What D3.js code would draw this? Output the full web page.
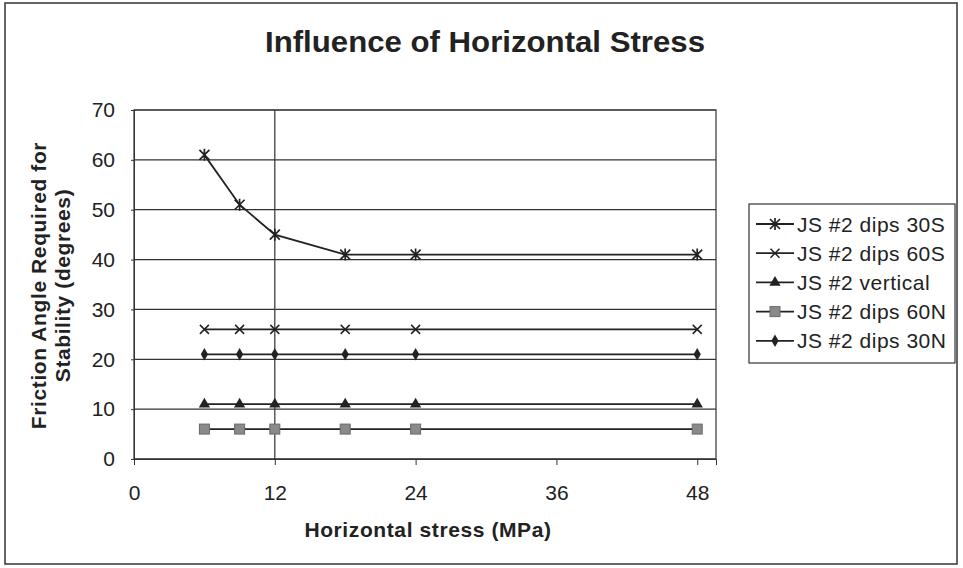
<!DOCTYPE html>
<meta charset="utf-8" />
<script src="https://d3js.org/d3.v7.min.js"></script>
<style>
    body { margin: 0; background: #fff; }
    text { font-family: 'Liberation Sans', Arial, sans-serif; fill: #222; }
</style>
<div id="chart"></div>
<script>
    // data
    const stress = [6, 9, 12, 18, 24, 48]
    const dips30S = [61, 51, 45, 41, 41, 41]
    const dips60S = [26, 26, 26, 26, 26, 26]
    const vertical = [11, 11, 11, 11, 11, 11]
    const dips60N = [6, 6, 6, 6, 6, 6]
    const dips30N = [21, 21, 21, 21, 21, 21]
    const xTicks = [0, 12, 24, 36, 48]
    const yTicks = [0, 10, 20, 30, 40, 50, 60, 70]

    const series = [
        { name: 'JS #2 dips 30S', values: dips30S, marker: 'star' },
        { name: 'JS #2 dips 60S', values: dips60S, marker: 'cross' },
        { name: 'JS #2 vertical', values: vertical, marker: 'triangle' },
        { name: 'JS #2 dips 60N', values: dips60N, marker: 'square' },
        { name: 'JS #2 dips 30N', values: dips30N, marker: 'diamond' }
    ]

    const W = 963, H = 568
    const margin = { top: 110, right: 247, bottom: 109, left: 134 }
    const width = W - margin.left - margin.right
    const height = H - margin.top - margin.bottom

    const root = d3.select('#chart').append('svg')
        .attr('width', W).attr('height', H)

    // outer frame
    root.append('rect')
        .attr('x', 5).attr('y', 3).attr('width', 952).attr('height', 561)
        .attr('fill', 'none').attr('stroke', '#333').attr('stroke-width', 1.5)

    root.append('text')
        .attr('x', 485).attr('y', 52)
        .attr('text-anchor', 'middle')
        .attr('font-family', "'Liberation Sans Narrow', 'Liberation Sans', sans-serif")
        .attr('font-size', '30px').attr('font-weight', 'bold')
        .attr('textLength', 440).attr('lengthAdjust', 'spacingAndGlyphs')
        .text('Influence of Horizontal Stress')

    const svg = root.append('g')
        .attr('transform', `translate(${margin.left},${margin.top})`)

    const x = d3.scaleLinear().domain([0, 49.6]).range([0, width])
    const y = d3.scaleLinear().domain([0, 70]).range([height, 0])

    // gridlines
    svg.selectAll('.grid')
        .data(yTicks)
        .join('line')
        .attr('x1', 0).attr('x2', width)
        .attr('y1', d => y(d)).attr('y2', d => y(d))
        .attr('stroke', '#333').attr('stroke-width', 1.2)
    // the vertical line at 12
    svg.append('line')
        .attr('x1', x(12)).attr('x2', x(12))
        .attr('y1', 0).attr('y2', height)
        .attr('stroke', '#333').attr('stroke-width', 1.2)

    svg.append('rect')
        .attr('width', width).attr('height', height)
        .attr('fill', 'none').attr('stroke', '#333').attr('stroke-width', 1.2)

    const xAxis = svg.append('g')
        .attr('transform', `translate(0,${height})`)
        .call(d3.axisBottom(x).tickValues(xTicks).tickSize(6).tickPadding(20))
    const yAxis = svg.append('g')
        .call(d3.axisLeft(y).tickValues(yTicks).tickSize(3).tickPadding(16))
    ;[xAxis, yAxis].forEach(a => {
        a.select('.domain').attr('stroke', '#333')
        a.selectAll('.tick line').attr('stroke', '#333')
        a.selectAll('.tick text')
            .attr('font-size', '21px')
            .attr('font-family', "'Liberation Sans', Arial, sans-serif")
            .attr('fill', '#222')
    })

    // axis titles
    svg.append('text')
        .attr('x', 294).attr('y', height + 78)
        .attr('text-anchor', 'middle')
        .attr('font-size', '21px').attr('font-weight', 'bold')
        .attr('letter-spacing', '0.6px')
        .text('Horizontal stress (MPa)')
    const yl = svg.append('text')
        .attr('transform', `translate(-88,${height / 2 + 1}) rotate(-90)`)
        .attr('text-anchor', 'middle')
        .attr('font-size', '21px').attr('font-weight', 'bold')
        .attr('letter-spacing', '0.6px')
    yl.append('tspan').attr('x', 0).attr('dy', 0).text('Friction Angle Required for')
    yl.append('tspan').attr('x', 0).attr('dy', 24).text('Stability (degrees)')

    function drawMarker(g, type, cx, cy) {
        const c = '#222'
        if (type === 'star') {
            const s = 5
            g.append('path')
                .attr('d', `M${cx - s},${cy - s}L${cx + s},${cy + s}M${cx - s},${cy + s}L${cx + s},${cy - s}M${cx},${cy - s - 1}L${cx},${cy + s + 1}`)
                .attr('stroke', c).attr('stroke-width', 1.7)
        } else if (type === 'cross') {
            const s = 4.5
            g.append('path')
                .attr('d', `M${cx - s},${cy - s}L${cx + s},${cy + s}M${cx - s},${cy + s}L${cx + s},${cy - s}`)
                .attr('stroke', c).attr('stroke-width', 1.5)
        } else if (type === 'triangle') {
            g.append('path')
                .attr('transform', `translate(${cx},${cy})`)
                .attr('d', d3.symbol(d3.symbolTriangle, 55)())
                .attr('fill', c)
        } else if (type === 'square') {
            g.append('rect')
                .attr('x', cx - 5).attr('y', cy - 5).attr('width', 10).attr('height', 10)
                .attr('fill', '#8a8a8a').attr('stroke', '#6a6a6a')
        } else if (type === 'diamond') {
            g.append('path')
                .attr('transform', `translate(${cx},${cy})`)
                .attr('d', d3.symbol(d3.symbolDiamond, 45)())
                .attr('fill', c)
        }
    }

    const line = d3.line()
        .x((d, i) => x(stress[i]))
        .y(d => y(d))

    series.forEach(s => {
        svg.append('path')
            .datum(s.values)
            .attr('fill', 'none')
            .attr('stroke', '#222')
            .attr('stroke-width', 1.8)
            .attr('d', line)
        const g = svg.append('g')
        s.values.forEach((v, i) => drawMarker(g, s.marker, x(stress[i]), y(v)))
    })

    // legend
    const lg = root.append('g').attr('transform', 'translate(749,204)')
    lg.append('rect')
        .attr('width', 206).attr('height', 159)
        .attr('fill', '#fff').attr('stroke', '#333').attr('stroke-width', 1.2)
    series.forEach((s, i) => {
        const ly = 20 + i * 29.2
        lg.append('line')
            .attr('x1', 7).attr('x2', 45).attr('y1', ly).attr('y2', ly)
            .attr('stroke', '#222').attr('stroke-width', 1.8)
        drawMarker(lg, s.marker, 26, ly)
        lg.append('text')
            .attr('x', 48).attr('y', ly + 7.5)
            .attr('font-size', '21px')
            .attr('letter-spacing', '0.5px')
            .text(s.name)
    })
</script>
